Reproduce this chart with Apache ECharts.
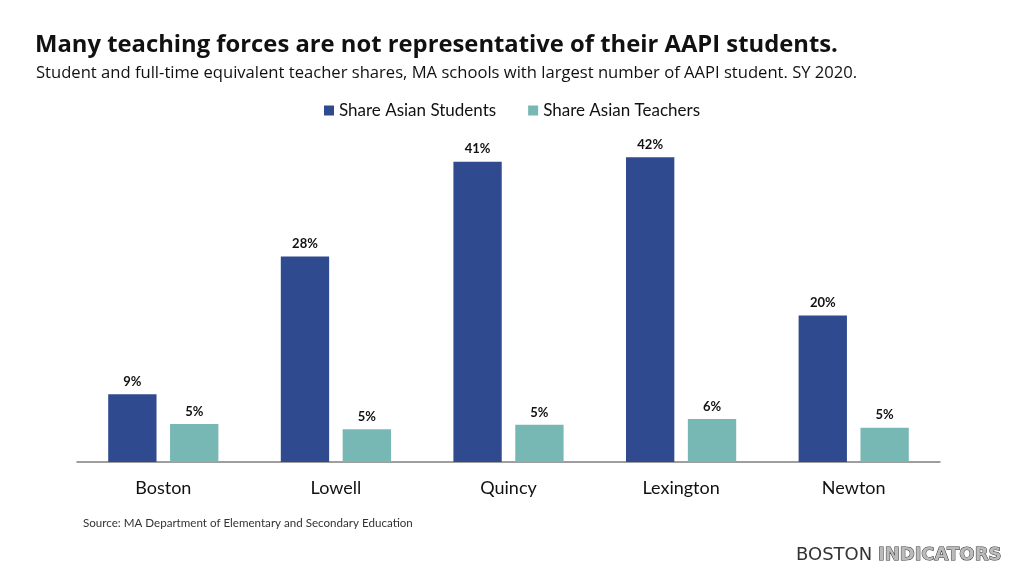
<!DOCTYPE html>
<html>
<head>
<meta charset="utf-8">
<script src="https://cdn.jsdelivr.net/npm/echarts@6/dist/echarts.min.js"></script>
<style>
  html, body { margin: 0; padding: 0; background: #fff; }
  #chart { width: 1024px; height: 576px; }
</style>
</head>
<body>
<div id="chart"></div>
<script>
const cities = ["Boston", "Lowell", "Quincy", "Lexington", "Newton"];
const studentShare = [9.3, 28.2, 41.2, 41.8, 20.1];
const teacherShare = [5.2, 4.5, 5.1, 5.9, 4.7];

const font = "Lato, 'DejaVu Sans', sans-serif";
const headFont = "'Open Sans', Lato, sans-serif";
const chart = echarts.init(document.getElementById("chart"));

const labelOpt = {
  show: true,
  position: "top",
  distance: 6,
  fontFamily: font,
  fontWeight: "bold",
  fontSize: 13,
  color: "#111",
  formatter: (p) => Math.round(p.value) + "%",
};

chart.setOption({
  animation: false,
  textStyle: { fontFamily: font },
  title: [
    {
      text: "Many teaching forces are not representative of their AAPI students.",
      left: 30,
      top: 28,
      textStyle: { fontFamily: headFont, fontSize: 23.8, fontWeight: "bold", color: "#111" },
    },
    {
      text: "Student and full-time equivalent teacher shares, MA schools with largest number of AAPI student. SY 2020.",
      left: 31,
      top: 60,
      textStyle: { fontFamily: headFont, fontSize: 16.6, fontWeight: "normal", color: "#111" },
    },
    {
      text: "Source: MA Department of Elementary and Secondary Education",
      left: 78,
      top: 512,
      textStyle: { fontFamily: font, fontSize: 11.6, fontWeight: "normal", color: "#333" },
    },
  ],
  legend: {
    top: 97,
    left: "center",
    itemWidth: 10,
    itemHeight: 10,
    itemGap: 32,
    icon: "rect",
    textStyle: { fontFamily: font, fontSize: 17, color: "#111" },
    data: ["Share Asian Students", "Share Asian Teachers"],
  },
  grid: { left: 77, right: 84, top: 134, bottom: 114 },
  xAxis: {
    type: "category",
    data: cities,
    axisLine: { lineStyle: { color: "#7f7f7f", width: 1.5 } },
    axisTick: { show: false },
    axisLabel: { fontFamily: font, fontSize: 18, color: "#111", margin: 17 },
  },
  yAxis: {
    type: "value",
    min: 0,
    max: 45,
    show: false,
    splitLine: { show: false },
  },
  series: [
    {
      name: "Share Asian Students",
      type: "bar",
      data: studentShare,
      barWidth: "28%",
      barGap: "28%",
      itemStyle: { color: "#2F4A8E" },
      label: labelOpt,
    },
    {
      name: "Share Asian Teachers",
      type: "bar",
      data: teacherShare,
      barWidth: "28%",
      itemStyle: { color: "#77B8B5" },
      label: labelOpt,
    },
  ],
  graphic: [
    {
      type: "text",
      right: 22,
      top: 546,
      style: {
        rich: {
          a: { fontFamily: "'DejaVu Sans', sans-serif", fontSize: 18, fontWeight: "normal", fill: "#333" },
          b: { fontFamily: "'DejaVu Sans', sans-serif", fontSize: 18, fontWeight: "bold", fill: "#bbb", stroke: "#333", lineWidth: 1 },
        },
        text: "{a|BOSTON }{b|INDICATORS}",
      },
    },
  ],
});
</script>
</body>
</html>
